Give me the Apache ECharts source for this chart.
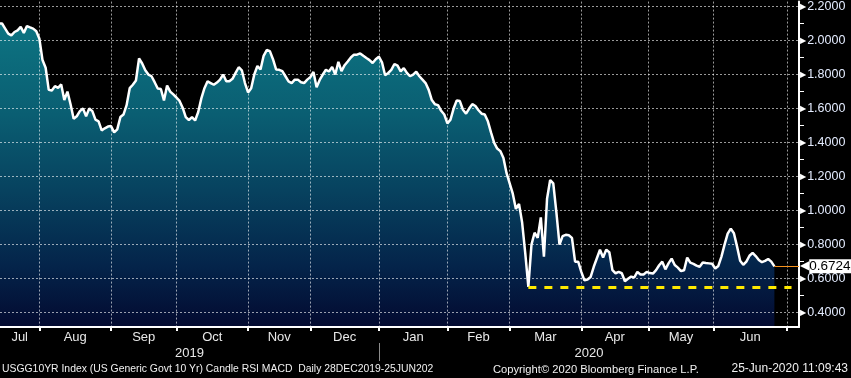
<!DOCTYPE html>
<html>
<head>
<meta charset="utf-8">
<title>USGG10YR Index</title>
<script src="https://cdn.jsdelivr.net/npm/echarts@6/dist/echarts.min.js"></script>
<style>
  html, body { margin: 0; padding: 0; background: #000; }
  #chart { width: 851px; height: 378px; }
</style>
</head>
<body>
<div id="chart"></div>
<script>
// US generic govt 10y yield, one value per trading day (mid Jul 2019 -> 25 Jun 2020)
const yields = [
  2.10, 2.10, 2.07, 2.04, 2.03, 2.05, 2.06, 2.08, 2.045, 2.085,
  2.077, 2.07, 2.055, 2.01, 1.885, 1.84, 1.71, 1.706, 1.732, 1.722,
  1.742, 1.65, 1.70, 1.625, 1.54, 1.555, 1.585, 1.60, 1.555, 1.60,
  1.585, 1.535, 1.525, 1.472, 1.484, 1.494, 1.497, 1.46, 1.478, 1.55,
  1.565, 1.62, 1.72, 1.74, 1.765, 1.895, 1.865, 1.825, 1.80, 1.79,
  1.755, 1.718, 1.715, 1.648, 1.735, 1.70, 1.683, 1.665, 1.645, 1.605,
  1.55, 1.533, 1.55, 1.53, 1.58, 1.66, 1.72, 1.76, 1.75, 1.74,
  1.753, 1.77, 1.80, 1.761, 1.761, 1.775, 1.81, 1.843, 1.825, 1.75,
  1.695, 1.72, 1.80, 1.85, 1.83, 1.91, 1.944, 1.938, 1.89, 1.83,
  1.828, 1.82, 1.79, 1.76, 1.75, 1.77, 1.77, 1.755, 1.75, 1.77,
  1.785, 1.815, 1.725, 1.768, 1.80, 1.828, 1.818, 1.845, 1.80, 1.875,
  1.82, 1.855, 1.877, 1.90, 1.917, 1.917, 1.924, 1.91, 1.897, 1.885,
  1.868, 1.89, 1.905, 1.872, 1.796, 1.809, 1.827, 1.862, 1.852, 1.819,
  1.838, 1.81, 1.79, 1.80, 1.817, 1.79, 1.77, 1.75, 1.71, 1.65,
  1.625, 1.62, 1.587, 1.565, 1.513, 1.535, 1.60, 1.648, 1.644, 1.593,
  1.57, 1.60, 1.626, 1.615, 1.59, 1.57, 1.565, 1.525, 1.46, 1.40,
  1.365, 1.35, 1.31, 1.22, 1.16, 1.10, 1.01, 1.04, 0.93, 0.75,
  0.552, 0.80, 0.87, 0.84, 0.96, 0.73, 1.07, 1.18, 1.16, 0.99,
  0.80, 0.85, 0.858, 0.855, 0.84, 0.70, 0.70, 0.64, 0.59, 0.595,
  0.61, 0.67, 0.72, 0.77, 0.725, 0.77, 0.755, 0.65, 0.632, 0.64,
  0.632, 0.585, 0.60, 0.612, 0.607, 0.64, 0.625, 0.625, 0.64, 0.633,
  0.63, 0.65, 0.679, 0.70, 0.655, 0.69, 0.718, 0.68, 0.665, 0.645,
  0.65, 0.724, 0.694, 0.687, 0.677, 0.67, 0.695, 0.692, 0.69, 0.688,
  0.66, 0.675, 0.73, 0.80, 0.865, 0.894, 0.867, 0.79, 0.705, 0.682,
  0.70, 0.735, 0.752, 0.733, 0.71, 0.697, 0.705, 0.716, 0.70, 0.6724
];

// month boundaries on the trading-day axis
const monthTicks = [13, 36, 57, 80, 100, 122, 144, 164, 187, 208.5, 229.5, 253];
const monthNames = ['Jul', 'Aug', 'Sep', 'Oct', 'Nov', 'Dec', 'Jan', 'Feb', 'Mar', 'Apr', 'May', 'Jun'];
const yearBreak = 122;
const yearNames = ['2019', '2020'];
const yTicks = [0.4, 0.6, 0.8, 1.0, 1.2, 1.4, 1.6, 1.8, 2.0, 2.2];

// dashed yellow line at the March low
const lowLevel = 0.55;
const lowStart = 170;
const lowEnd = 254.5;

const footLeft = 'USGG10YR Index (US Generic Govt 10 Yr) Candle RSI MACD  Daily 28DEC2019-25JUN202';
const footMid = 'Copyright\u00a9 2020 Bloomberg Finance L.P.';
const footRight = '25-Jun-2020 11:09:43';

const xMin = 0.35, xMax = 256.9;
const yMin = 0.316, yMax = 2.229;

const lastIdx = yields.length - 1;
const lastValue = yields[lastIdx];
const seriesData = yields.map((v, i) => [i, v]);

// label spots sit in the middle of each month / year span
const edges = [xMin].concat(monthTicks);
const monthMid = monthNames.map((m, i) => (edges[i] + edges[i + 1]) / 2);
const yearMid = [(xMin + yearBreak) / 2, (yearBreak + xMax) / 2];

const font = '"Liberation Sans", Arial, sans-serif';
// grid drawn over the fill, so keep it see-through
const gridLine = { color: 'rgba(255,255,255,0.6)', width: 1, type: [2, 2] };

let myChart = echarts.init(document.getElementById('chart'));
myChart.setOption({
  backgroundColor: '#000',
  animation: false,
  grid: { left: 0, right: 52, top: 0, bottom: 51 },
  xAxis: [
    {
      type: 'value',
      min: xMin,
      max: xMax,
      z: 3,
      axisLine: { show: true, lineStyle: { color: '#fff', width: 2 } },
      axisTick: {
        show: true,
        customValues: monthTicks,
        length: 4,
        lineStyle: { color: '#fff', width: 2 }
      },
      axisLabel: {
        customValues: monthMid,
        formatter: function (v) {
          let k = monthMid.indexOf(v);
          return k >= 0 ? monthNames[k] : '';
        },
        color: '#e8e8e8',
        fontFamily: font,
        fontSize: 13,
        margin: 4
      },
      splitLine: { show: true, lineStyle: gridLine }
    },
    {
      type: 'value',
      min: xMin,
      max: xMax,
      position: 'bottom',
      offset: 16,
      axisLine: { show: false },
      axisTick: {
        show: true,
        customValues: [yearBreak],
        length: 18,
        lineStyle: { color: '#8c8c8c', width: 1 }
      },
      axisLabel: {
        customValues: yearMid,
        formatter: function (v) {
          let k = yearMid.indexOf(v);
          return k >= 0 ? yearNames[k] : '';
        },
        color: '#e8e8e8',
        fontFamily: font,
        fontSize: 13,
        margin: 4
      },
      splitLine: { show: false }
    }
  ],
  yAxis: {
    type: 'value',
    position: 'right',
    min: yMin,
    max: yMax,
    splitNumber: 9,
    z: 3,
    axisLine: { show: true, lineStyle: { color: '#fff', width: 2 } },
    axisTick: { show: false, customValues: yTicks },
    minorTick: { show: true, splitNumber: 2, length: 5, lineStyle: { color: '#fff', width: 1 } },
    axisLabel: {
      customValues: yTicks,
      margin: 1,
      formatter: function (v) {
        return '{a|\u25B6}{b|' + v.toFixed(4) + '}';
      },
      rich: {
        a: { color: '#fff', fontSize: 8, fontFamily: 'DejaVu Sans', padding: [0, 1, 0, 0] },
        b: { color: '#e4ecff', fontSize: 12.5, fontFamily: font }
      }
    },
    splitLine: { show: true, lineStyle: gridLine }
  },
  series: [
    {
      name: 'fill',
      type: 'line',
      data: seriesData,
      symbol: 'none',
      silent: true,
      z: 2,
      lineStyle: { width: 0 },
      areaStyle: {
        origin: 'start',
        opacity: 1,
        color: new echarts.graphic.LinearGradient(0, 0, 0, 1, [
          { offset: 0, color: '#0d7482' },
          { offset: 0.3, color: '#0a5e72' },
          { offset: 0.55, color: '#07425f' },
          { offset: 0.8, color: '#04244a' },
          { offset: 1, color: '#030a30' }
        ])
      },
      markLine: {
        silent: true,
        symbol: ['none', 'none'],
        label: { show: false },
        lineStyle: { color: '#ffea00', width: 3, type: [8, 8] },
        data: [[{ coord: [lowStart, lowLevel] }, { coord: [lowEnd, lowLevel] }]]
      }
    },
    {
      name: 'USGG10YR',
      type: 'line',
      data: seriesData,
      symbol: 'none',
      z: 4,
      lineStyle: { color: '#fff', width: 2.5 },
      markLine: {
        silent: true,
        symbol: ['none', 'none'],
        lineStyle: { color: '#f7931e', width: 1, type: 'solid' },
        label: {
          show: true,
          position: 'end',
          distance: 1,
          formatter: '{a|\u25C0}{b|' + lastValue.toFixed(4) + '}',
          rich: {
            a: { color: '#fff', fontSize: 12, fontFamily: 'DejaVu Sans', lineHeight: 18 },
            b: {
              color: '#000', backgroundColor: '#fff', fontSize: 13.5, fontFamily: font,
              lineHeight: 18, padding: [0, 3, 0, 0]
            }
          }
        },
        data: [[{ coord: [lastIdx, lastValue] }, { coord: [xMax, lastValue] }]]
      }
    }
  ],
  graphic: [
    { type: 'text', left: 2, top: 364, style: { text: footLeft, fill: '#f0f0f0', font: '10.4px ' + font } },
    { type: 'text', left: 493, top: 364, style: { text: footMid, fill: '#f0f0f0', font: '11.2px ' + font } },
    { type: 'text', right: 3, top: 363, style: { text: footRight, fill: '#f0f0f0', font: '12px ' + font } }
  ]
});
</script>
</body>
</html>
